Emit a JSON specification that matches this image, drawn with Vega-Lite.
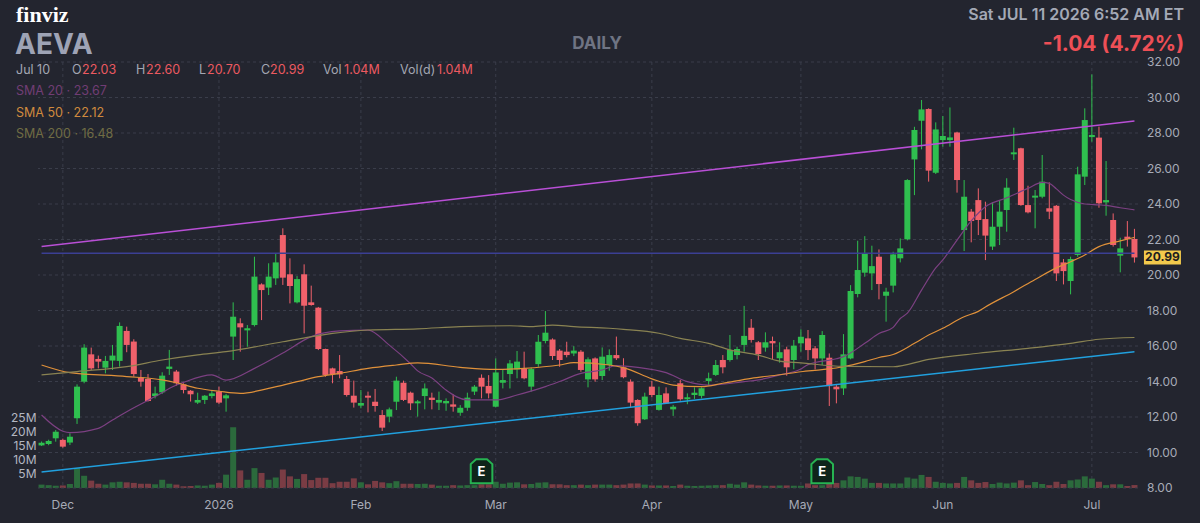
{
  "$schema": "https://vega.github.io/schema/vega-lite/v6.json",
  "width": 1100,
  "height": 426,
  "autosize": {"type": "none"},
  "padding": {"left": 38, "top": 62, "right": 62, "bottom": 35},
  "background": "#23252f",
  "config": {
    "view": {"stroke": null},
    "font": "Inter",
    "text": {"font": "Inter"}
  },
  "datasets": {
    "ohlc": [
      {"d": "2025-11-25", "o": 10.40, "h": 10.62, "l": 10.37, "c": 10.55, "v": 1.2},
      {"d": "2025-11-26", "o": 10.48, "h": 10.72, "l": 10.41, "c": 10.65, "v": 1.0},
      {"d": "2025-11-28", "o": 10.80, "h": 11.27, "l": 10.61, "c": 11.17, "v": 0.8},
      {"d": "2025-12-01", "o": 10.71, "h": 10.78, "l": 10.27, "c": 10.33, "v": 0.9},
      {"d": "2025-12-02", "o": 10.56, "h": 11.08, "l": 10.42, "c": 10.89, "v": 1.4},
      {"d": "2025-12-03", "o": 11.93, "h": 13.84, "l": 11.61, "c": 13.71, "v": 7.0},
      {"d": "2025-12-04", "o": 13.99, "h": 16.10, "l": 13.90, "c": 15.91, "v": 4.3},
      {"d": "2025-12-05", "o": 15.53, "h": 15.91, "l": 14.65, "c": 14.74, "v": 2.6},
      {"d": "2025-12-08", "o": 15.27, "h": 15.46, "l": 14.74, "c": 15.12, "v": 1.5},
      {"d": "2025-12-09", "o": 14.78, "h": 15.44, "l": 14.46, "c": 15.16, "v": 1.2},
      {"d": "2025-12-10", "o": 15.18, "h": 16.06, "l": 14.65, "c": 15.46, "v": 2.0},
      {"d": "2025-12-11", "o": 15.16, "h": 17.33, "l": 14.84, "c": 17.13, "v": 2.2},
      {"d": "2025-12-12", "o": 16.85, "h": 17.09, "l": 15.65, "c": 16.06, "v": 2.0},
      {"d": "2025-12-15", "o": 16.25, "h": 16.38, "l": 14.27, "c": 14.42, "v": 1.8},
      {"d": "2025-12-16", "o": 14.22, "h": 14.65, "l": 13.71, "c": 13.99, "v": 1.5},
      {"d": "2025-12-17", "o": 14.14, "h": 14.42, "l": 12.87, "c": 12.90, "v": 1.5},
      {"d": "2025-12-18", "o": 13.18, "h": 13.71, "l": 13.05, "c": 13.33, "v": 1.3},
      {"d": "2025-12-19", "o": 13.39, "h": 14.52, "l": 13.30, "c": 14.33, "v": 2.9},
      {"d": "2025-12-22", "o": 14.71, "h": 15.78, "l": 14.37, "c": 14.84, "v": 1.5},
      {"d": "2025-12-23", "o": 14.56, "h": 14.65, "l": 13.77, "c": 13.90, "v": 1.2},
      {"d": "2025-12-24", "o": 13.84, "h": 13.90, "l": 13.33, "c": 13.52, "v": 0.6},
      {"d": "2025-12-26", "o": 13.48, "h": 13.52, "l": 12.87, "c": 13.28, "v": 0.7},
      {"d": "2025-12-29", "o": 12.81, "h": 13.37, "l": 12.73, "c": 12.96, "v": 0.9},
      {"d": "2025-12-30", "o": 12.96, "h": 13.24, "l": 12.73, "c": 13.20, "v": 0.8},
      {"d": "2025-12-31", "o": 13.18, "h": 13.52, "l": 13.05, "c": 13.33, "v": 1.2},
      {"d": "2026-01-02", "o": 13.43, "h": 13.71, "l": 12.73, "c": 12.81, "v": 1.8},
      {"d": "2026-01-05", "o": 13.05, "h": 13.30, "l": 12.30, "c": 13.22, "v": 4.7},
      {"d": "2026-01-06", "o": 16.53, "h": 18.46, "l": 15.21, "c": 17.65, "v": 21.4},
      {"d": "2026-01-07", "o": 17.28, "h": 17.56, "l": 15.68, "c": 17.05, "v": 6.2},
      {"d": "2026-01-08", "o": 16.88, "h": 17.18, "l": 15.96, "c": 17.00, "v": 2.9},
      {"d": "2026-01-09", "o": 17.18, "h": 21.03, "l": 17.10, "c": 19.91, "v": 7.0},
      {"d": "2026-01-12", "o": 19.47, "h": 19.53, "l": 17.46, "c": 19.15, "v": 5.3},
      {"d": "2026-01-13", "o": 19.29, "h": 20.66, "l": 18.87, "c": 19.91, "v": 2.9},
      {"d": "2026-01-14", "o": 19.81, "h": 21.22, "l": 19.44, "c": 20.71, "v": 3.7},
      {"d": "2026-01-15", "o": 22.25, "h": 22.63, "l": 19.44, "c": 19.85, "v": 6.5},
      {"d": "2026-01-16", "o": 20.04, "h": 20.94, "l": 18.40, "c": 19.38, "v": 4.1},
      {"d": "2026-01-20", "o": 18.46, "h": 19.94, "l": 18.40, "c": 19.77, "v": 3.2},
      {"d": "2026-01-21", "o": 20.04, "h": 20.60, "l": 16.71, "c": 18.27, "v": 4.9},
      {"d": "2026-01-22", "o": 18.46, "h": 19.40, "l": 18.27, "c": 18.31, "v": 2.8},
      {"d": "2026-01-23", "o": 18.16, "h": 18.20, "l": 15.77, "c": 15.83, "v": 3.6},
      {"d": "2026-01-26", "o": 15.83, "h": 15.85, "l": 14.27, "c": 14.37, "v": 3.6},
      {"d": "2026-01-27", "o": 14.74, "h": 14.78, "l": 13.90, "c": 14.40, "v": 1.7},
      {"d": "2026-01-28", "o": 14.59, "h": 15.49, "l": 14.18, "c": 14.40, "v": 2.2},
      {"d": "2026-01-29", "o": 14.14, "h": 14.31, "l": 13.15, "c": 13.24, "v": 2.2},
      {"d": "2026-01-30", "o": 13.20, "h": 14.05, "l": 12.53, "c": 12.81, "v": 3.4},
      {"d": "2026-02-02", "o": 12.64, "h": 13.52, "l": 12.49, "c": 12.79, "v": 2.0},
      {"d": "2026-02-03", "o": 13.20, "h": 13.43, "l": 12.26, "c": 13.09, "v": 1.3},
      {"d": "2026-02-04", "o": 12.86, "h": 13.58, "l": 12.30, "c": 12.62, "v": 2.5},
      {"d": "2026-02-05", "o": 12.11, "h": 12.39, "l": 11.21, "c": 11.40, "v": 2.0},
      {"d": "2026-02-06", "o": 12.02, "h": 12.53, "l": 11.70, "c": 12.43, "v": 1.7},
      {"d": "2026-02-09", "o": 12.86, "h": 14.27, "l": 12.39, "c": 14.05, "v": 2.4},
      {"d": "2026-02-10", "o": 13.93, "h": 14.05, "l": 12.90, "c": 12.96, "v": 1.5},
      {"d": "2026-02-11", "o": 13.37, "h": 13.43, "l": 12.39, "c": 12.77, "v": 1.5},
      {"d": "2026-02-12", "o": 12.77, "h": 12.96, "l": 12.02, "c": 12.88, "v": 1.4},
      {"d": "2026-02-13", "o": 13.18, "h": 13.89, "l": 12.43, "c": 13.61, "v": 1.5},
      {"d": "2026-02-17", "o": 13.09, "h": 13.37, "l": 12.43, "c": 12.96, "v": 1.2},
      {"d": "2026-02-18", "o": 12.81, "h": 13.43, "l": 12.39, "c": 12.96, "v": 0.8},
      {"d": "2026-02-19", "o": 12.77, "h": 13.05, "l": 12.35, "c": 12.90, "v": 0.8},
      {"d": "2026-02-20", "o": 12.71, "h": 13.28, "l": 12.30, "c": 12.58, "v": 1.0},
      {"d": "2026-02-23", "o": 12.24, "h": 12.67, "l": 12.07, "c": 12.52, "v": 0.9},
      {"d": "2026-02-24", "o": 12.52, "h": 13.37, "l": 12.35, "c": 13.09, "v": 1.0},
      {"d": "2026-02-25", "o": 13.43, "h": 13.80, "l": 13.24, "c": 13.71, "v": 1.0},
      {"d": "2026-02-26", "o": 14.21, "h": 14.40, "l": 13.05, "c": 13.71, "v": 1.3},
      {"d": "2026-02-27", "o": 13.75, "h": 14.36, "l": 13.05, "c": 13.33, "v": 1.3},
      {"d": "2026-03-02", "o": 12.58, "h": 15.30, "l": 12.54, "c": 14.51, "v": 2.2},
      {"d": "2026-03-03", "o": 13.93, "h": 14.65, "l": 13.61, "c": 14.08, "v": 1.5},
      {"d": "2026-03-04", "o": 14.42, "h": 15.21, "l": 13.61, "c": 15.02, "v": 1.9},
      {"d": "2026-03-05", "o": 14.68, "h": 15.72, "l": 14.18, "c": 15.12, "v": 2.0},
      {"d": "2026-03-06", "o": 14.74, "h": 15.68, "l": 14.12, "c": 14.18, "v": 1.3},
      {"d": "2026-03-09", "o": 13.71, "h": 14.78, "l": 13.43, "c": 14.70, "v": 1.4},
      {"d": "2026-03-10", "o": 14.98, "h": 16.62, "l": 14.83, "c": 16.24, "v": 1.9},
      {"d": "2026-03-11", "o": 16.28, "h": 17.97, "l": 16.15, "c": 16.75, "v": 2.0},
      {"d": "2026-03-12", "o": 16.37, "h": 16.43, "l": 15.21, "c": 15.43, "v": 1.3},
      {"d": "2026-03-13", "o": 15.74, "h": 15.83, "l": 14.83, "c": 15.21, "v": 1.3},
      {"d": "2026-03-16", "o": 15.68, "h": 16.24, "l": 15.36, "c": 15.49, "v": 1.0},
      {"d": "2026-03-17", "o": 15.58, "h": 15.99, "l": 15.43, "c": 15.74, "v": 1.0},
      {"d": "2026-03-18", "o": 15.68, "h": 15.77, "l": 14.55, "c": 14.65, "v": 1.2},
      {"d": "2026-03-19", "o": 14.12, "h": 15.36, "l": 13.67, "c": 15.25, "v": 1.0},
      {"d": "2026-03-20", "o": 15.30, "h": 15.36, "l": 13.99, "c": 14.12, "v": 1.2},
      {"d": "2026-03-23", "o": 14.31, "h": 15.92, "l": 14.08, "c": 15.40, "v": 1.2},
      {"d": "2026-03-24", "o": 14.93, "h": 15.81, "l": 14.61, "c": 15.49, "v": 1.2},
      {"d": "2026-03-25", "o": 15.49, "h": 16.53, "l": 15.21, "c": 15.31, "v": 1.0},
      {"d": "2026-03-26", "o": 14.80, "h": 15.31, "l": 14.18, "c": 14.24, "v": 1.2},
      {"d": "2026-03-27", "o": 13.99, "h": 14.12, "l": 12.55, "c": 12.81, "v": 1.6},
      {"d": "2026-03-30", "o": 12.96, "h": 13.00, "l": 11.51, "c": 11.65, "v": 1.6},
      {"d": "2026-03-31", "o": 11.87, "h": 13.37, "l": 11.83, "c": 13.15, "v": 1.2},
      {"d": "2026-04-01", "o": 13.71, "h": 14.03, "l": 13.11, "c": 13.24, "v": 0.9},
      {"d": "2026-04-02", "o": 12.40, "h": 13.71, "l": 12.36, "c": 13.24, "v": 0.9},
      {"d": "2026-04-06", "o": 13.33, "h": 13.67, "l": 12.73, "c": 12.77, "v": 0.9},
      {"d": "2026-04-07", "o": 12.43, "h": 12.68, "l": 12.06, "c": 12.58, "v": 0.7},
      {"d": "2026-04-08", "o": 13.90, "h": 14.09, "l": 12.92, "c": 13.00, "v": 1.2},
      {"d": "2026-04-09", "o": 13.00, "h": 13.33, "l": 12.72, "c": 13.11, "v": 0.8},
      {"d": "2026-04-10", "o": 13.24, "h": 13.67, "l": 13.02, "c": 13.37, "v": 0.7},
      {"d": "2026-04-13", "o": 13.19, "h": 13.67, "l": 13.05, "c": 13.62, "v": 0.8},
      {"d": "2026-04-14", "o": 14.03, "h": 14.50, "l": 13.80, "c": 14.18, "v": 0.9},
      {"d": "2026-04-15", "o": 14.37, "h": 15.21, "l": 14.31, "c": 14.93, "v": 1.0},
      {"d": "2026-04-16", "o": 15.21, "h": 15.49, "l": 14.46, "c": 14.80, "v": 1.0},
      {"d": "2026-04-17", "o": 15.21, "h": 16.62, "l": 15.12, "c": 15.78, "v": 1.5},
      {"d": "2026-04-20", "o": 15.49, "h": 15.96, "l": 15.25, "c": 15.83, "v": 1.2},
      {"d": "2026-04-21", "o": 16.06, "h": 18.26, "l": 15.68, "c": 16.57, "v": 2.0},
      {"d": "2026-04-22", "o": 17.03, "h": 17.52, "l": 16.19, "c": 16.34, "v": 1.2},
      {"d": "2026-04-23", "o": 16.21, "h": 16.28, "l": 15.21, "c": 15.55, "v": 0.9},
      {"d": "2026-04-24", "o": 15.91, "h": 16.77, "l": 15.68, "c": 16.21, "v": 0.8},
      {"d": "2026-04-27", "o": 16.28, "h": 16.53, "l": 15.25, "c": 16.15, "v": 0.8},
      {"d": "2026-04-28", "o": 15.31, "h": 16.21, "l": 15.06, "c": 15.65, "v": 0.9},
      {"d": "2026-04-29", "o": 15.81, "h": 15.96, "l": 14.33, "c": 14.80, "v": 0.9},
      {"d": "2026-04-30", "o": 15.21, "h": 16.34, "l": 14.69, "c": 16.02, "v": 0.8},
      {"d": "2026-05-01", "o": 16.15, "h": 16.94, "l": 15.68, "c": 16.52, "v": 0.8},
      {"d": "2026-05-04", "o": 16.43, "h": 16.90, "l": 15.21, "c": 15.77, "v": 1.6},
      {"d": "2026-05-05", "o": 15.87, "h": 16.00, "l": 14.68, "c": 15.30, "v": 1.0},
      {"d": "2026-05-06", "o": 15.30, "h": 16.84, "l": 14.93, "c": 16.62, "v": 1.0},
      {"d": "2026-05-07", "o": 15.34, "h": 15.58, "l": 12.62, "c": 13.74, "v": 1.4},
      {"d": "2026-05-08", "o": 13.71, "h": 13.80, "l": 12.77, "c": 13.56, "v": 1.8},
      {"d": "2026-05-11", "o": 13.61, "h": 16.67, "l": 13.24, "c": 15.53, "v": 2.7},
      {"d": "2026-05-12", "o": 15.30, "h": 19.43, "l": 15.25, "c": 19.10, "v": 4.1},
      {"d": "2026-05-13", "o": 18.93, "h": 21.93, "l": 18.74, "c": 20.28, "v": 3.9},
      {"d": "2026-05-14", "o": 20.13, "h": 22.19, "l": 19.90, "c": 21.22, "v": 3.3},
      {"d": "2026-05-15", "o": 20.09, "h": 21.65, "l": 19.15, "c": 20.50, "v": 1.8},
      {"d": "2026-05-18", "o": 21.03, "h": 21.44, "l": 18.63, "c": 19.49, "v": 1.8},
      {"d": "2026-05-19", "o": 18.83, "h": 19.28, "l": 17.37, "c": 19.06, "v": 1.6},
      {"d": "2026-05-20", "o": 19.40, "h": 21.31, "l": 19.02, "c": 21.16, "v": 1.6},
      {"d": "2026-05-21", "o": 20.94, "h": 22.06, "l": 20.71, "c": 21.50, "v": 1.6},
      {"d": "2026-05-22", "o": 22.01, "h": 25.40, "l": 21.95, "c": 25.35, "v": 3.7},
      {"d": "2026-05-26", "o": 26.51, "h": 28.35, "l": 24.50, "c": 28.17, "v": 3.3},
      {"d": "2026-05-27", "o": 28.69, "h": 29.86, "l": 27.08, "c": 29.33, "v": 4.6},
      {"d": "2026-05-28", "o": 29.35, "h": 29.39, "l": 25.26, "c": 25.88, "v": 3.9},
      {"d": "2026-05-29", "o": 25.76, "h": 28.60, "l": 25.69, "c": 28.20, "v": 2.2},
      {"d": "2026-06-01", "o": 27.60, "h": 28.96, "l": 27.23, "c": 27.83, "v": 1.8},
      {"d": "2026-06-02", "o": 27.60, "h": 29.44, "l": 27.23, "c": 27.75, "v": 1.6},
      {"d": "2026-06-03", "o": 28.03, "h": 28.07, "l": 24.64, "c": 25.35, "v": 1.8},
      {"d": "2026-06-04", "o": 22.53, "h": 25.35, "l": 21.35, "c": 24.41, "v": 3.9},
      {"d": "2026-06-05", "o": 23.57, "h": 23.72, "l": 21.84, "c": 23.04, "v": 2.7},
      {"d": "2026-06-08", "o": 24.22, "h": 24.88, "l": 22.25, "c": 23.10, "v": 1.8},
      {"d": "2026-06-09", "o": 23.15, "h": 24.13, "l": 20.84, "c": 22.22, "v": 2.1},
      {"d": "2026-06-10", "o": 21.60, "h": 24.09, "l": 21.41, "c": 22.72, "v": 1.4},
      {"d": "2026-06-11", "o": 22.72, "h": 24.22, "l": 21.69, "c": 23.57, "v": 1.9},
      {"d": "2026-06-12", "o": 23.66, "h": 25.45, "l": 22.44, "c": 24.92, "v": 1.6},
      {"d": "2026-06-15", "o": 26.80, "h": 28.30, "l": 26.48, "c": 26.91, "v": 1.9},
      {"d": "2026-06-16", "o": 27.14, "h": 27.17, "l": 23.90, "c": 23.94, "v": 2.7},
      {"d": "2026-06-17", "o": 23.94, "h": 25.03, "l": 23.47, "c": 23.53, "v": 1.0},
      {"d": "2026-06-18", "o": 24.36, "h": 24.79, "l": 22.63, "c": 24.47, "v": 2.1},
      {"d": "2026-06-22", "o": 24.41, "h": 26.76, "l": 24.32, "c": 25.26, "v": 1.4},
      {"d": "2026-06-23", "o": 23.76, "h": 25.22, "l": 23.15, "c": 23.57, "v": 1.0},
      {"d": "2026-06-24", "o": 23.90, "h": 23.94, "l": 19.66, "c": 20.09, "v": 2.2},
      {"d": "2026-06-25", "o": 20.71, "h": 20.90, "l": 19.47, "c": 20.22, "v": 1.4},
      {"d": "2026-06-26", "o": 19.66, "h": 21.03, "l": 18.91, "c": 20.90, "v": 2.7},
      {"d": "2026-06-29", "o": 21.13, "h": 26.10, "l": 21.03, "c": 25.67, "v": 3.0},
      {"d": "2026-06-30", "o": 25.54, "h": 29.39, "l": 25.07, "c": 28.73, "v": 4.1},
      {"d": "2026-07-01", "o": 27.77, "h": 31.30, "l": 27.51, "c": 27.89, "v": 3.3},
      {"d": "2026-07-02", "o": 27.74, "h": 28.36, "l": 23.79, "c": 24.04, "v": 2.2},
      {"d": "2026-07-06", "o": 24.09, "h": 26.42, "l": 23.34, "c": 24.22, "v": 1.0},
      {"d": "2026-07-07", "o": 23.10, "h": 23.47, "l": 21.60, "c": 21.69, "v": 1.3},
      {"d": "2026-07-08", "o": 21.09, "h": 22.10, "l": 20.15, "c": 21.50, "v": 1.3},
      {"d": "2026-07-09", "o": 22.16, "h": 23.04, "l": 21.60, "c": 22.03, "v": 0.7},
      {"d": "2026-07-10", "o": 22.03, "h": 22.60, "l": 20.70, "c": 20.99, "v": 1.04}
    ],
    "sma": [
      {"d": "2025-11-25", "k": "20", "p": 12.11},
      {"d": "2025-12-01", "k": "20", "p": 11.20},
      {"d": "2025-12-02", "k": "20", "p": 11.12},
      {"d": "2025-12-08", "k": "20", "p": 11.36},
      {"d": "2025-12-10", "k": "20", "p": 11.83},
      {"d": "2025-12-12", "k": "20", "p": 12.30},
      {"d": "2025-12-18", "k": "20", "p": 13.15},
      {"d": "2025-12-23", "k": "20", "p": 13.80},
      {"d": "2025-12-24", "k": "20", "p": 13.95},
      {"d": "2025-12-31", "k": "20", "p": 14.37},
      {"d": "2026-01-05", "k": "20", "p": 14.08},
      {"d": "2026-01-09", "k": "20", "p": 14.74},
      {"d": "2026-01-15", "k": "20", "p": 15.60},
      {"d": "2026-01-22", "k": "20", "p": 16.53},
      {"d": "2026-01-28", "k": "20", "p": 16.85},
      {"d": "2026-02-03", "k": "20", "p": 16.90},
      {"d": "2026-02-06", "k": "20", "p": 16.05},
      {"d": "2026-02-11", "k": "20", "p": 15.00},
      {"d": "2026-02-12", "k": "20", "p": 14.60},
      {"d": "2026-02-17", "k": "20", "p": 14.20},
      {"d": "2026-02-19", "k": "20", "p": 13.52},
      {"d": "2026-02-24", "k": "20", "p": 12.96},
      {"d": "2026-03-02", "k": "20", "p": 12.96},
      {"d": "2026-03-05", "k": "20", "p": 13.24},
      {"d": "2026-03-11", "k": "20", "p": 13.71},
      {"d": "2026-03-13", "k": "20", "p": 14.00},
      {"d": "2026-03-18", "k": "20", "p": 14.46},
      {"d": "2026-03-23", "k": "20", "p": 14.65},
      {"d": "2026-03-25", "k": "20", "p": 14.90},
      {"d": "2026-03-30", "k": "20", "p": 14.80},
      {"d": "2026-04-06", "k": "20", "p": 14.50},
      {"d": "2026-04-09", "k": "20", "p": 13.99},
      {"d": "2026-04-14", "k": "20", "p": 13.80},
      {"d": "2026-04-21", "k": "20", "p": 13.99},
      {"d": "2026-04-23", "k": "20", "p": 14.09},
      {"d": "2026-04-28", "k": "20", "p": 14.37},
      {"d": "2026-05-01", "k": "20", "p": 14.70},
      {"d": "2026-05-04", "k": "20", "p": 14.95},
      {"d": "2026-05-08", "k": "20", "p": 15.28},
      {"d": "2026-05-11", "k": "20", "p": 15.40},
      {"d": "2026-05-14", "k": "20", "p": 16.15},
      {"d": "2026-05-18", "k": "20", "p": 16.70},
      {"d": "2026-05-20", "k": "20", "p": 17.05},
      {"d": "2026-05-21", "k": "20", "p": 17.55},
      {"d": "2026-05-22", "k": "20", "p": 17.85},
      {"d": "2026-05-27", "k": "20", "p": 19.15},
      {"d": "2026-05-29", "k": "20", "p": 20.40},
      {"d": "2026-06-01", "k": "20", "p": 20.85},
      {"d": "2026-06-03", "k": "20", "p": 21.97},
      {"d": "2026-06-05", "k": "20", "p": 23.05},
      {"d": "2026-06-09", "k": "20", "p": 23.85},
      {"d": "2026-06-12", "k": "20", "p": 24.35},
      {"d": "2026-06-17", "k": "20", "p": 24.88},
      {"d": "2026-06-22", "k": "20", "p": 25.22},
      {"d": "2026-06-23", "k": "20", "p": 25.16},
      {"d": "2026-06-24", "k": "20", "p": 24.85},
      {"d": "2026-06-25", "k": "20", "p": 24.50},
      {"d": "2026-06-26", "k": "20", "p": 24.25},
      {"d": "2026-06-30", "k": "20", "p": 24.00},
      {"d": "2026-07-02", "k": "20", "p": 23.95},
      {"d": "2026-07-06", "k": "20", "p": 23.92},
      {"d": "2026-07-08", "k": "20", "p": 23.79},
      {"d": "2026-07-10", "k": "20", "p": 23.67},
      {"d": "2025-11-25", "k": "50", "p": 14.93},
      {"d": "2025-12-02", "k": "50", "p": 14.50},
      {"d": "2025-12-12", "k": "50", "p": 14.28},
      {"d": "2025-12-19", "k": "50", "p": 14.09},
      {"d": "2025-12-23", "k": "50", "p": 13.93},
      {"d": "2025-12-29", "k": "50", "p": 13.62},
      {"d": "2026-01-02", "k": "50", "p": 13.45},
      {"d": "2026-01-07", "k": "50", "p": 13.33},
      {"d": "2026-01-13", "k": "50", "p": 13.61},
      {"d": "2026-01-20", "k": "50", "p": 13.99},
      {"d": "2026-01-23", "k": "50", "p": 14.27},
      {"d": "2026-01-28", "k": "50", "p": 14.46},
      {"d": "2026-02-03", "k": "50", "p": 14.74},
      {"d": "2026-02-09", "k": "50", "p": 14.93},
      {"d": "2026-02-12", "k": "50", "p": 15.05},
      {"d": "2026-02-23", "k": "50", "p": 14.80},
      {"d": "2026-03-02", "k": "50", "p": 14.68},
      {"d": "2026-03-06", "k": "50", "p": 14.74},
      {"d": "2026-03-13", "k": "50", "p": 14.93},
      {"d": "2026-03-17", "k": "50", "p": 15.06},
      {"d": "2026-03-24", "k": "50", "p": 14.93},
      {"d": "2026-03-26", "k": "50", "p": 14.78},
      {"d": "2026-04-01", "k": "50", "p": 14.15},
      {"d": "2026-04-07", "k": "50", "p": 13.80},
      {"d": "2026-04-13", "k": "50", "p": 13.71},
      {"d": "2026-04-16", "k": "50", "p": 13.90},
      {"d": "2026-04-22", "k": "50", "p": 14.18},
      {"d": "2026-04-28", "k": "50", "p": 14.38},
      {"d": "2026-05-01", "k": "50", "p": 14.55},
      {"d": "2026-05-06", "k": "50", "p": 14.67},
      {"d": "2026-05-11", "k": "50", "p": 14.83},
      {"d": "2026-05-14", "k": "50", "p": 15.12},
      {"d": "2026-05-18", "k": "50", "p": 15.35},
      {"d": "2026-05-20", "k": "50", "p": 15.52},
      {"d": "2026-05-26", "k": "50", "p": 16.15},
      {"d": "2026-05-28", "k": "50", "p": 16.62},
      {"d": "2026-06-01", "k": "50", "p": 17.00},
      {"d": "2026-06-04", "k": "50", "p": 17.65},
      {"d": "2026-06-08", "k": "50", "p": 17.95},
      {"d": "2026-06-09", "k": "50", "p": 18.20},
      {"d": "2026-06-15", "k": "50", "p": 19.06},
      {"d": "2026-06-18", "k": "50", "p": 19.75},
      {"d": "2026-06-24", "k": "50", "p": 20.40},
      {"d": "2026-06-26", "k": "50", "p": 20.75},
      {"d": "2026-06-30", "k": "50", "p": 21.13},
      {"d": "2026-07-02", "k": "50", "p": 21.60},
      {"d": "2026-07-08", "k": "50", "p": 21.92},
      {"d": "2026-07-10", "k": "50", "p": 22.12},
      {"d": "2025-11-25", "k": "200", "p": 14.37},
      {"d": "2025-12-03", "k": "200", "p": 14.56},
      {"d": "2025-12-12", "k": "200", "p": 14.84},
      {"d": "2025-12-19", "k": "200", "p": 15.21},
      {"d": "2025-12-29", "k": "200", "p": 15.50},
      {"d": "2026-01-05", "k": "200", "p": 15.68},
      {"d": "2026-01-15", "k": "200", "p": 16.24},
      {"d": "2026-01-27", "k": "200", "p": 16.71},
      {"d": "2026-02-03", "k": "200", "p": 16.90},
      {"d": "2026-02-12", "k": "200", "p": 16.97},
      {"d": "2026-02-23", "k": "200", "p": 17.09},
      {"d": "2026-03-04", "k": "200", "p": 17.14},
      {"d": "2026-03-09", "k": "200", "p": 17.09},
      {"d": "2026-03-12", "k": "200", "p": 17.18},
      {"d": "2026-03-17", "k": "200", "p": 17.09},
      {"d": "2026-03-24", "k": "200", "p": 17.00},
      {"d": "2026-03-26", "k": "200", "p": 16.94},
      {"d": "2026-04-02", "k": "200", "p": 16.72},
      {"d": "2026-04-08", "k": "200", "p": 16.43},
      {"d": "2026-04-14", "k": "200", "p": 16.15},
      {"d": "2026-04-17", "k": "200", "p": 15.78},
      {"d": "2026-04-23", "k": "200", "p": 15.49},
      {"d": "2026-04-28", "k": "200", "p": 15.15},
      {"d": "2026-05-01", "k": "200", "p": 15.05},
      {"d": "2026-05-11", "k": "200", "p": 14.85},
      {"d": "2026-05-20", "k": "200", "p": 14.83},
      {"d": "2026-05-28", "k": "200", "p": 15.25},
      {"d": "2026-06-08", "k": "200", "p": 15.59},
      {"d": "2026-06-17", "k": "200", "p": 15.87},
      {"d": "2026-06-26", "k": "200", "p": 16.15},
      {"d": "2026-07-02", "k": "200", "p": 16.38},
      {"d": "2026-07-10", "k": "200", "p": 16.48}
    ],
    "trend": [
      {"d": "2025-11-25", "k": "upper", "p": 21.60},
      {"d": "2026-07-10", "k": "upper", "p": 28.67},
      {"d": "2025-11-25", "k": "lower", "p": 8.90},
      {"d": "2026-07-10", "k": "lower", "p": 15.68},
      {"d": "2025-11-25", "k": "level", "p": 21.22},
      {"d": "2026-07-10", "k": "level", "p": 21.22}
    ],
    "months": [
      {"d": "2025-12-01", "m": "Dec"},
      {"d": "2026-01-02", "m": "2026"},
      {"d": "2026-02-02", "m": "Feb"},
      {"d": "2026-03-02", "m": "Mar"},
      {"d": "2026-04-01", "m": "Apr"},
      {"d": "2026-05-01", "m": "May"},
      {"d": "2026-06-01", "m": "Jun"},
      {"d": "2026-07-01", "m": "Jul"}
    ],
    "ticks": [
      {"p": 8}, {"p": 10}, {"p": 12}, {"p": 14}, {"p": 16}, {"p": 18}, {"p": 20},
      {"p": 22}, {"p": 24}, {"p": 26}, {"p": 28}, {"p": 30}, {"p": 32}
    ],
    "earnings": [{"d": "2026-02-26"}, {"d": "2026-05-06"}],
    "last": [{"d": "2026-07-10", "p": 20.99}]
  },
  "resolve": {"scale": {"y": "independent"}},
  "layer": [
    {
      "data": {"name": "months"},
      "mark": {"type": "rule", "color": "#3a3d4a", "strokeWidth": 1, "strokeDash": [3, 3]},
      "encoding": {
        "x": {"field": "d", "type": "ordinal", "scale": {"type": "point", "padding": 0.5}, "axis": null}
      }
    },
    {
      "data": {"name": "ohlc"},
      "mark": {"type": "bar", "size": 6},
      "encoding": {
        "x": {"field": "d", "type": "ordinal", "axis": null},
        "y": {
          "field": "v", "type": "quantitative",
          "scale": {"domain": [0, 150], "nice": false},
          "axis": {
            "orient": "left", "values": [5, 10, 15, 20, 25],
            "labelExpr": "datum.value + 'M'",
            "title": null, "domain": false, "ticks": false, "grid": false,
            "labelColor": "#b3b7c2", "labelFontSize": 12, "labelPadding": 2
          }
        },
        "color": {"condition": {"test": "datum.c >= datum.o", "value": "#2b6a3c"}, "value": "#7a3c44"}
      }
    },
    {
      "layer": [
        {
          "data": {"name": "ticks"},
          "mark": {"type": "rule", "color": "#3a3d4a", "strokeWidth": 1, "strokeDash": [3, 3]},
          "encoding": {
            "y": {
              "field": "p", "type": "quantitative",
              "scale": {"domain": [8, 32], "nice": false, "zero": false},
              "axis": null
            }
          }
        },
        {
          "data": {"name": "ticks"},
          "mark": {"type": "text", "align": "left", "baseline": "middle", "dx": 559, "fontSize": 12, "color": "#a7abb7"},
          "encoding": {
            "y": {"field": "p", "type": "quantitative", "axis": null},
            "text": {"field": "p", "format": ".2f"}
          }
        },
        {
          "data": {"name": "months"},
          "mark": {"type": "text", "align": "center", "baseline": "middle", "dy": 230, "fontSize": 12, "color": "#a7abb7"},
          "encoding": {
            "x": {"field": "d", "type": "ordinal", "axis": null},
            "text": {"field": "m"}
          }
        },
        {
          "data": {"name": "ohlc"},
          "mark": {"type": "rule", "strokeWidth": 1},
          "encoding": {
            "x": {"field": "d", "type": "ordinal", "axis": null},
            "y": {"field": "l", "type": "quantitative", "axis": null},
            "y2": {"field": "h"},
            "color": {"condition": {"test": "datum.c >= datum.o", "value": "#2fbf4f"}, "value": "#f0616b"}
          }
        },
        {
          "data": {"name": "ohlc"},
          "mark": {"type": "bar", "size": 6},
          "encoding": {
            "x": {"field": "d", "type": "ordinal", "axis": null},
            "y": {"field": "o", "type": "quantitative", "axis": null},
            "y2": {"field": "c"},
            "color": {"condition": {"test": "datum.c >= datum.o", "value": "#2fbf4f"}, "value": "#f0616b"}
          }
        },
        {
          "data": {"name": "sma"},
          "mark": {"type": "line", "strokeWidth": 1.2, "interpolate": "monotone"},
          "encoding": {
            "x": {"field": "d", "type": "ordinal", "axis": null},
            "y": {"field": "p", "type": "quantitative", "axis": null},
            "color": {
              "field": "k", "type": "nominal",
              "scale": {"domain": ["20", "50", "200"], "range": ["#7c4082", "#e0913a", "#8a8352"]},
              "legend": null
            }
          }
        },
        {
          "data": {"name": "trend"},
          "mark": {"type": "line", "strokeWidth": 1.5},
          "encoding": {
            "x": {"field": "d", "type": "ordinal", "axis": null},
            "y": {"field": "p", "type": "quantitative", "axis": null},
            "detail": {"field": "k"},
            "color": {
              "condition": [
                {"test": "datum.k == 'upper'", "value": "#b94fd6"},
                {"test": "datum.k == 'level'", "value": "#3b3f94"}
              ],
              "value": "#21a0de"
            }
          }
        },
        {
          "data": {"name": "earnings"},
          "mark": {
            "type": "point", "filled": true, "opacity": 1, "size": 576,
            "shape": "M-0.45,-1L0.45,-1L0.9,-0.6L0.9,1L-0.9,1L-0.9,-0.6Z",
            "fill": "#0f241a", "stroke": "#27b352", "strokeWidth": 2
          },
          "encoding": {
            "x": {"field": "d", "type": "ordinal", "axis": null},
            "y": {"datum": 8.94, "axis": null}
          }
        },
        {
          "data": {"name": "earnings"},
          "mark": {"type": "text", "text": "E", "fontSize": 13, "fontWeight": "bold", "color": "#ffffff", "baseline": "middle", "dy": 1},
          "encoding": {
            "x": {"field": "d", "type": "ordinal", "axis": null},
            "y": {"datum": 8.94, "axis": null}
          }
        },
        {
          "data": {"name": "last"},
          "mark": {
            "type": "point", "filled": true, "opacity": 1, "size": 1600,
            "shape": "M0.475,-0.35L2.325,-0.35L2.325,0.35L0.475,0.35Z",
            "color": "#f2c94c"
          },
          "encoding": {
            "x": {"field": "d", "type": "ordinal", "axis": null},
            "y": {"field": "p", "type": "quantitative", "axis": null}
          }
        },
        {
          "data": {"name": "last"},
          "mark": {"type": "text", "dx": 28, "align": "center", "baseline": "middle", "fontSize": 12, "fontWeight": "bold", "color": "#1b1c20"},
          "encoding": {
            "x": {"field": "d", "type": "ordinal", "axis": null},
            "y": {"field": "p", "type": "quantitative", "axis": null},
            "text": {"field": "p", "format": ".2f"}
          }
        },
        {
          "data": {"name": "ohlc"},
          "transform": [{"filter": "datum.d == '2025-11-25'"}],
          "layer": [
            {"mark": {"type": "text", "text": "finviz", "font": "Liberation Serif", "fontSize": 22, "fontWeight": "bold", "color": "#ffffff", "align": "left", "baseline": "middle", "dx": -25.5}, "encoding": {"y": {"datum": 34.62, "axis": null}}},
            {"mark": {"type": "text", "text": "AEVA", "fontSize": 28, "fontWeight": "bold", "color": "#9ea3b5", "align": "left", "baseline": "middle", "dx": -26.5}, "encoding": {"y": {"datum": 32.9, "axis": null}}},
            {"mark": {"type": "text", "text": "DAILY", "fontSize": 17, "fontWeight": "bold", "color": "#6f7483", "align": "center", "baseline": "middle", "dx": 555.5}, "encoding": {"y": {"datum": 33.01, "axis": null}}},
            {"mark": {"type": "text", "text": "Sat JUL 11 2026 6:52 AM ET", "fontSize": 16, "fontWeight": 600, "color": "#a4a9b6", "align": "right", "baseline": "middle", "dx": 1142.5}, "encoding": {"y": {"datum": 34.62, "axis": null}}},
            {"mark": {"type": "text", "text": "-1.04 (4.72%)", "fontSize": 21, "fontWeight": "bold", "color": "#ee4f56", "align": "right", "baseline": "middle", "dx": 1142.5}, "encoding": {"y": {"datum": 32.96, "axis": null}}},
            {"mark": {"type": "text", "text": "Jul 10", "fontSize": 12.5, "color": "#a3a7b3", "align": "left", "baseline": "middle", "dx": -25.5}, "encoding": {"y": {"datum": 31.55, "axis": null}}},
            {"mark": {"type": "text", "text": "O", "fontSize": 12.5, "color": "#a3a7b3", "align": "left", "baseline": "middle", "dx": 30.5}, "encoding": {"y": {"datum": 31.55, "axis": null}}},
            {"mark": {"type": "text", "text": "22.03", "fontSize": 12.5, "color": "#ec5a61", "align": "left", "baseline": "middle", "dx": 40.5}, "encoding": {"y": {"datum": 31.55, "axis": null}}},
            {"mark": {"type": "text", "text": "H", "fontSize": 12.5, "color": "#a3a7b3", "align": "left", "baseline": "middle", "dx": 94.5}, "encoding": {"y": {"datum": 31.55, "axis": null}}},
            {"mark": {"type": "text", "text": "22.60", "fontSize": 12.5, "color": "#ec5a61", "align": "left", "baseline": "middle", "dx": 104.5}, "encoding": {"y": {"datum": 31.55, "axis": null}}},
            {"mark": {"type": "text", "text": "L", "fontSize": 12.5, "color": "#a3a7b3", "align": "left", "baseline": "middle", "dx": 157.5}, "encoding": {"y": {"datum": 31.55, "axis": null}}},
            {"mark": {"type": "text", "text": "20.70", "fontSize": 12.5, "color": "#ec5a61", "align": "left", "baseline": "middle", "dx": 165.5}, "encoding": {"y": {"datum": 31.55, "axis": null}}},
            {"mark": {"type": "text", "text": "C", "fontSize": 12.5, "color": "#a3a7b3", "align": "left", "baseline": "middle", "dx": 219.5}, "encoding": {"y": {"datum": 31.55, "axis": null}}},
            {"mark": {"type": "text", "text": "20.99", "fontSize": 12.5, "color": "#ec5a61", "align": "left", "baseline": "middle", "dx": 228.5}, "encoding": {"y": {"datum": 31.55, "axis": null}}},
            {"mark": {"type": "text", "text": "Vol", "fontSize": 12.5, "color": "#a3a7b3", "align": "left", "baseline": "middle", "dx": 281.5}, "encoding": {"y": {"datum": 31.55, "axis": null}}},
            {"mark": {"type": "text", "text": "1.04M", "fontSize": 12.5, "color": "#ec5a61", "align": "left", "baseline": "middle", "dx": 302.5}, "encoding": {"y": {"datum": 31.55, "axis": null}}},
            {"mark": {"type": "text", "text": "Vol(d)", "fontSize": 12.5, "color": "#a3a7b3", "align": "left", "baseline": "middle", "dx": 358.5}, "encoding": {"y": {"datum": 31.55, "axis": null}}},
            {"mark": {"type": "text", "text": "1.04M", "fontSize": 12.5, "color": "#ec5a61", "align": "left", "baseline": "middle", "dx": 395.5}, "encoding": {"y": {"datum": 31.55, "axis": null}}},
            {"mark": {"type": "text", "text": "SMA 20 · 23.67", "fontSize": 12.5, "color": "#713d74", "align": "left", "baseline": "middle", "dx": -25.5}, "encoding": {"y": {"datum": 30.34, "axis": null}}},
            {"mark": {"type": "text", "text": "SMA 50 · 22.12", "fontSize": 12.5, "color": "#d08a3e", "align": "left", "baseline": "middle", "dx": -25.5}, "encoding": {"y": {"datum": 29.15, "axis": null}}},
            {"mark": {"type": "text", "text": "SMA 200 · 16.48", "fontSize": 12.5, "color": "#706c44", "align": "left", "baseline": "middle", "dx": -25.5}, "encoding": {"y": {"datum": 27.94, "axis": null}}}
          ],
          "encoding": {
            "x": {"field": "d", "type": "ordinal", "axis": null}
          }
        }
      ]
    }
  ]
}
